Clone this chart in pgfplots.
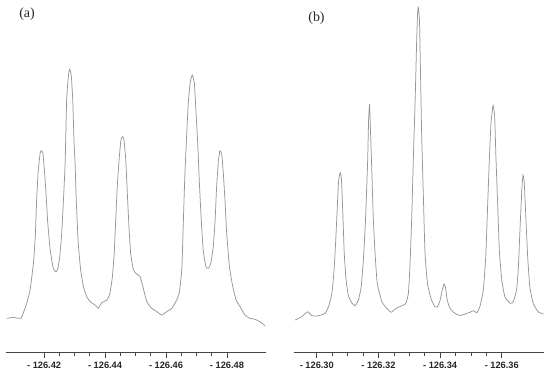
\documentclass[border=0pt]{standalone}
\usepackage{fontspec}
\setmainfont{Liberation Serif}
\setsansfont{Liberation Sans}
\usepackage{pgfplots}
\pgfplotsset{compat=1.18}
\definecolor{curve}{RGB}{150,150,150}
\definecolor{axline}{RGB}{70,70,70}
\pgfplotsset{
  nmr/.style={
    scale only axis, height=352bp, ymin=0, ymax=352,
    axis x line=bottom, axis y line=none,
    x axis line style={-, color=axline, line width=0.8bp},
    tick align=outside, tick pos=bottom,
    major tick length=6bp, minor tick length=3.5bp,
    minor x tick num=3,
    every tick/.style={color=axline, line width=0.7bp},
    xticklabel style={font=\fontsize{9.3}{10}\selectfont\sffamily\bfseries, color=black!85, inner sep=0pt, anchor=north, yshift=-4bp},
    clip=false,
  }
}
\begin{document}
\begin{tikzpicture}
\useasboundingbox (0,0) rectangle (550bp,374bp);
\begin{axis}[nmr, at={(6bp,22bp)}, anchor=south west, width=260bp,
  xmin=126.4075, xmax=126.4928,
  xtick={126.42,126.44,126.46,126.48},
  xticklabels={- 126.42,- 126.44,- 126.46,- 126.48}]
\addplot[color=curve, line width=0.75bp, smooth, tension=0.3] coordinates {
(126.4078,33.7)(126.4098,34.5)(126.4124,33.7)(126.4132,39.3)(126.4143,48.7)(126.4154,62)
(126.4165,89)(126.4171,115.3)(126.4176,155.3)(126.4181,182)(126.4187,198.7)(126.4191,201.3)
(126.4196,198.7)(126.4201,182)(126.4207,155.3)(126.4212,129)(126.4220,102)(126.4229,85.3)
(126.4237,80.3)(126.4244,82)(126.4250,92)(126.4257,115.3)(126.4263,149)(126.4269,189)
(126.4274,252)(126.4280,277)(126.4284,282.7)(126.4289,277)(126.4294,252)(126.4298,212)
(126.4302,185.3)(126.4305,155.3)(126.4312,109)(126.4320,82)(126.4329,65.3)(126.4340,55.3)
(126.4351,50.3)(126.4362,48)(126.4371,46)(126.4378,43.7)(126.4389,49.3)(126.4406,52)
(126.4416,58.7)(126.4424,75.3)(126.4430,98.7)(126.4435,132)(126.4440,165.3)(126.4446,192)
(126.4452,212)(126.4458,215.3)(126.4462,212)(126.4468,192)(126.4473,158.7)(126.4479,122)
(126.4484,98.7)(126.4493,82)(126.4504,78)(126.4515,75.3)(126.4524,65.3)(126.4537,50.3)
(126.4553,43.7)(126.4570,40.3)(126.4586,37)(126.4602,40.3)(126.4619,43.7)(126.4635,52)
(126.4644,60.3)(126.4652,84)(126.4657,132)(126.4662,178.7)(126.4668,218.7)(126.4673,248.7)
(126.4679,268.7)(126.4686,277)(126.4693,268.7)(126.4698,242)(126.4704,208.7)(126.4709,172)
(126.4715,135.3)(126.4722,102)(126.4731,85.3)(126.4739,83.7)(126.4747,88.7)(126.4755,105.3)
(126.4761,132)(126.4766,165.3)(126.4772,192)(126.4777,201.3)(126.4783,197)(126.4788,178.7)
(126.4794,148.7)(126.4799,118.7)(126.4808,85.3)(126.4819,65.3)(126.4830,52)(126.4843,45.3)
(126.4859,37)(126.4875,33.7)(126.4892,32.7)(126.4908,30.3)(126.4925,26.3)
};
\node[font=\fontsize{14}{16}\selectfont, color=black!85] at (rel axis cs:0.0808,0.9588) {(a)};
\end{axis}
\begin{axis}[nmr, at={(294bp,22bp)}, anchor=south west, width=250bp,
  xmin=126.2926, xmax=126.3737,
  xtick={126.30,126.32,126.34,126.36},
  xticklabels={- 126.30,- 126.32,- 126.34,- 126.36}]
\addplot[color=curve, line width=0.75bp, smooth, tension=0.3] coordinates {
(126.2930,32)(126.2951,35.3)(126.2970,40.3)(126.2984,36.3)(126.3000,36)(126.3014,37)
(126.3027,38.7)(126.3038,45.3)(126.3049,58.7)(126.3056,82)(126.3062,115.3)(126.3067,148.7)
(126.3071,172)(126.3076,179.3)(126.3080,172)(126.3084,142)(126.3089,98.7)(126.3095,72)
(126.3102,57)(126.3113,49.3)(126.3124,46.3)(126.3135,52)(126.3144,65.3)(126.3151,92)
(126.3157,125.3)(126.3162,165.3)(126.3165,192)(126.3168,232)(126.3171,248)(126.3173,232)
(126.3178,185.3)(126.3183,135.3)(126.3189,98.7)(126.3196,68.7)(126.3211,50.3)(126.3227,43.7)
(126.3241,39.7)(126.3257,43.7)(126.3276,46.3)(126.3289,48.7)(126.3297,58.7)(126.3302,85.3)
(126.3308,135.3)(126.3313,192)(126.3319,252)(126.3324,312)(126.3327,338.7)(126.3329,344.7)
(126.3333,332)(126.3336,285.3)(126.3340,218.7)(126.3346,152)(126.3351,98.7)(126.3359,68.7)
(126.3370,53.7)(126.3383,45.3)(126.3392,45.3)(126.3400,52)(126.3407,62)(126.3413,68)
(126.3418,63.7)(126.3423,52)(126.3432,43.7)(126.3448,38.7)(126.3465,36.5)(126.3481,38)
(126.3497,39.7)(126.3508,41.3)(126.3519,39.3)(126.3529,45.3)(126.3540,62)(126.3548,95.3)
(126.3554,145.3)(126.3560,195.3)(126.3565,228.7)(126.3571,245.3)(126.3572,247)(126.3577,235.3)
(126.3581,195.3)(126.3587,145.3)(126.3592,102)(126.3600,72)(126.3610,55.3)(126.3627,48.7)
(126.3637,50.3)(126.3648,62)(126.3654,85.3)(126.3659,122)(126.3665,162)(126.3669,177)
(126.3673,168.7)(126.3678,135.3)(126.3684,95.3)(126.3691,65.3)(126.3702,48.7)(126.3718,40.3)
(126.3735,38)
};
\node[font=\fontsize{14}{16}\selectfont, color=black!85] at (rel axis cs:0.09,0.9489) {(b)};
\end{axis}
\end{tikzpicture}
\end{document}
